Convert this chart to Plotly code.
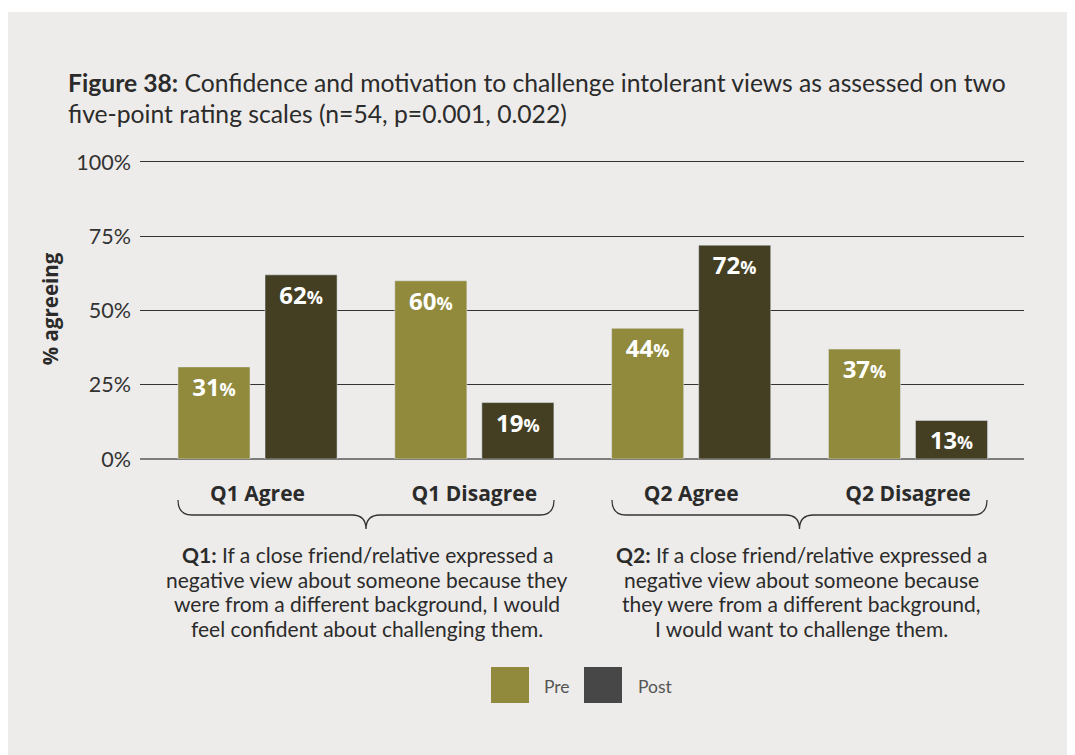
import plotly.graph_objects as go

categories = ["Q1 Agree", "Q1 Disagree", "Q2 Agree", "Q2 Disagree"]
pre_values = [31, 60, 44, 37]
post_values = [62, 19, 72, 13]
y_ticks = [0, 25, 50, 75, 100]
y_tick_labels = ["0%", "25%", "50%", "75%", "100%"]
q1_lines = ["<b>Q1:</b> If a close friend/relative expressed a",
            "negative view about someone because they",
            "were from a different background, I would",
            "feel confident about challenging them."]
q2_lines = ["<b>Q2:</b> If a close friend/relative expressed a",
            "negative view about someone because",
            "they were from a different background,",
            "I would want to challenge them."]

PRE_COLOR = "#918A3C"
POST_COLOR = "#443F23"
LEGEND_POST = "#474747"
BG = "#EDECEA"
TXT = "#2b2b2b"
BODY_FONT = "Lato"
BOLD_FONT = "Open Sans"

# page offset from default body margin
OFF = 8
PAGE_W, PAGE_H = 1075, 755
W, H = PAGE_W, PAGE_H
# plot area in page pixel coords
L, R, T, B = 140, 1024, 159, 459
YMAX = 101


def px(x):
    return (x - L) / (R - L)


def py(y):
    return (B - y) / (B - T)


def label(v):
    return f"<b>{v}<span style='font-size:18px'>%</span></b>"


fig = go.Figure()
for vals, name, col in [(pre_values, "Pre", PRE_COLOR), (post_values, "Post", POST_COLOR)]:
    fig.add_trace(go.Bar(
        x=categories, y=vals, name=name, marker_color=col,
        text=[label(v) for v in vals], textposition="inside",
        insidetextanchor="end", textangle=0,
        textfont=dict(family=BOLD_FONT, size=24, color="white"),
        showlegend=False,
    ))

# white strip above the grey panel (panel itself is the paper background)
shapes = [
    dict(type="rect", xref="paper", yref="paper", x0=px(0), x1=px(1100),
         y0=py(12), y1=py(0), fillcolor="white", line=dict(width=0), layer="below"),
]


def brace(x0, x1, ytop, ymid, ytip):
    xc = (x0 + x1) / 2
    r = 14
    pts = [
        f"M {px(x0)},{py(ytop)}",
        f"Q {px(x0)},{py(ymid)} {px(x0 + r)},{py(ymid)}",
        f"L {px(xc - r)},{py(ymid)}",
        f"Q {px(xc)},{py(ymid)} {px(xc)},{py(ytip)}",
        f"Q {px(xc)},{py(ymid)} {px(xc + r)},{py(ymid)}",
        f"L {px(x1 - r)},{py(ymid)}",
        f"Q {px(x1)},{py(ymid)} {px(x1)},{py(ytop)}",
    ]
    return dict(type="path", xref="paper", yref="paper", path=" ".join(pts),
                line=dict(color="#333333", width=1.3))


shapes.append(brace(178, 554, 500, 515, 529))
shapes.append(brace(612, 987, 500, 515, 529))

# legend swatches
shapes.append(dict(type="rect", xref="paper", yref="paper", x0=px(491), x1=px(529),
                   y0=py(703), y1=py(667), fillcolor=PRE_COLOR, line=dict(width=0)))
shapes.append(dict(type="rect", xref="paper", yref="paper", x0=px(584), x1=px(622),
                   y0=py(703), y1=py(667), fillcolor=LEGEND_POST, line=dict(width=0)))

annotations = [
    dict(xref="paper", yref="paper", x=px(66), y=py(83), xanchor="left", yanchor="middle",
         align="left", showarrow=False,
         text="<b>Figure 38:</b> Confidence and motivation to challenge intolerant views as assessed on two",
         font=dict(family=BODY_FONT, size=24.7, color=TXT)),
    dict(xref="paper", yref="paper", x=px(66), y=py(113), xanchor="left", yanchor="middle",
         align="left", showarrow=False,
         text="five-point rating scales (n=54, p=0.001, 0.022)",
         font=dict(family=BODY_FONT, size=24.7, color=TXT)),
    dict(xref="paper", yref="paper", x=px(542), y=py(686), xanchor="left", yanchor="middle",
         showarrow=False, text="Pre", font=dict(family=BODY_FONT, size=17.5, color="#555555")),
    dict(xref="paper", yref="paper", x=px(636), y=py(686), xanchor="left", yanchor="middle",
         showarrow=False, text="Post", font=dict(family=BODY_FONT, size=17.5, color="#555555")),
]
line_y = [554, 579, 603, 628]
for cx, lines in [(367, q1_lines), (801, q2_lines)]:
    for yy, t in zip(line_y, lines):
        annotations.append(dict(xref="paper", yref="paper", x=px(cx), y=py(yy),
                                xanchor="center", yanchor="middle", showarrow=False,
                                text=t, font=dict(family=BODY_FONT, size=21, color=TXT)))

fig.update_layout(
    width=W, height=H,
    margin=dict(l=L - OFF, r=W - (R - OFF), t=T - OFF, b=H - (B - OFF), autoexpand=False),
    paper_bgcolor=BG, plot_bgcolor=BG,
    barmode="group", bargap=0.197, bargroupgap=0.172,
    shapes=shapes, annotations=annotations,
    xaxis=dict(
        type="category", range=[-0.542, 3.535], showgrid=False, zeroline=False,
        showline=False, ticks="", tickmode="array", tickvals=categories,
        ticktext=[f"<b>{c}</b>" for c in categories],
        tickfont=dict(family=BOLD_FONT, size=21, color=TXT),
        ticklabelstandoff=20,
    ),
    yaxis=dict(
        range=[0, YMAX], tickmode="array", tickvals=y_ticks, ticktext=y_tick_labels,
        showgrid=True, gridcolor="#333333", gridwidth=1,
        zeroline=True, zerolinecolor="#7d7d7d", zerolinewidth=2,
        showline=False, ticks="", ticklabelstandoff=8,
        tickfont=dict(family=BODY_FONT, size=21.5, color="#333333"),
        title=dict(text="<b>% agreeing</b>", standoff=12,
                   font=dict(family=BOLD_FONT, size=20.5, color=TXT)),
    ),
)

fig.write_html("out.html")
